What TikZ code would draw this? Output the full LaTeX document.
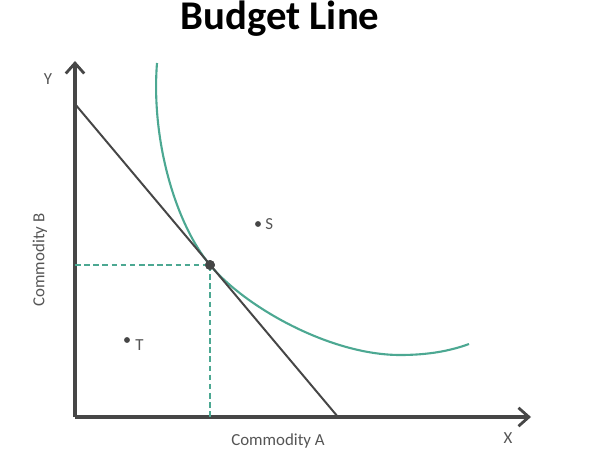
\documentclass[tikz,border=0pt]{standalone}
\usepackage{fontspec}
\setmainfont{Carlito}
\usetikzlibrary{arrows.meta}
\definecolor{axisgray}{RGB}{70,70,70}
\definecolor{curveteal}{RGB}{76,168,146}
\definecolor{labelgray}{RGB}{85,85,85}
\tikzset{
  axis/.style={line width=2.2pt, draw=axisgray, -{Straight Barb[length=2.6mm,width=4.6mm,line width=2pt]}},
  guide/.style={dashed, line width=1.1pt, draw=curveteal, dash pattern=on 4pt off 2.5pt},
  lbl/.style={text=labelgray, font=\fontsize{12}{14}\selectfont, inner sep=0pt},
  dot/.style={circle, fill=axisgray, inner sep=0pt, minimum size=4.2pt}
}
\begin{document}
\begin{tikzpicture}[x=0.025cm, y=0.025cm]
\useasboundingbox (0,0) rectangle (599,449);
\coordinate (O) at (75,32);
\coordinate (Ytop) at (75,388);
\coordinate (Xend) at (531,32);
\coordinate (B1) at (75,345);
\coordinate (B2) at (338,32);
\coordinate (Ex) at (75,184);
\coordinate (Ey) at (210,32);
\node[circle, fill=axisgray, inner sep=0pt, minimum size=7pt] (E) at (210,184) {};
% axes
\draw[axis] (O) -- (Ytop);
\draw[axis] (O) -- (Xend);
% dashed guides
\draw[guide] (Ex) -- (E.center);
\draw[guide] (E.center) -- (Ey);
% indifference curve
\draw[curveteal, line width=1.5pt] (157,386) .. controls (151,310) and (175,226) .. (210,184)
  .. controls (245,142) and (330,94) .. (400,94)
  .. controls (428,94) and (450,98) .. (469,105);
% budget line
\draw[axisgray, line width=1.4pt] (B1) -- (B2);
\node[circle, fill=axisgray, inner sep=0pt, minimum size=7pt] at (E) {};
% points
\node[dot] (S) at (258,225) {};
\node[lbl, anchor=west] (Slbl) at (265,225) {S};
\node[dot] (T) at (127,109) {};
\node[lbl, anchor=west] (Tlbl) at (135,104) {T};
% labels
\node[lbl] (Ylbl) at (48,370) {Y};
\node[lbl] (Xlbl) at (508,11) {X};
\node[lbl] (Albl) at (278,8) {Commodity A};
\node[lbl, rotate=90] (Blbl) at (40,189) {Commodity B};
\node[font=\fontsize{29}{33}\selectfont\bfseries] (title) at (280,430) {Budget Line};
\end{tikzpicture}
\end{document}
